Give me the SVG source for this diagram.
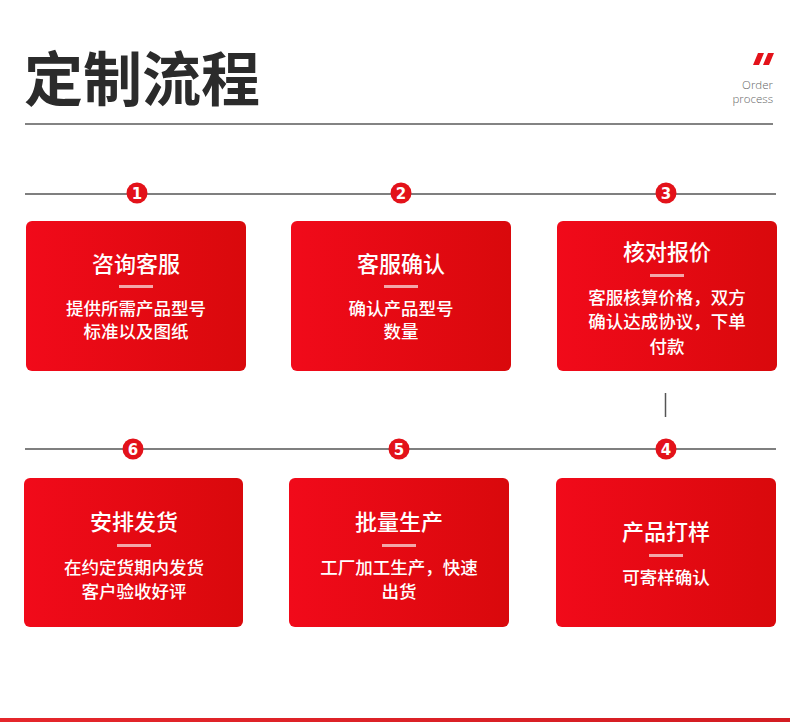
<svg xmlns="http://www.w3.org/2000/svg" width="790" height="722" viewBox="0 0 790 722">
<defs>
<linearGradient id="cardGrad" x1="0" y1="0" x2="1" y2="0">
<stop offset="0" stop-color="#f10a1a"/>
<stop offset="1" stop-color="#d9090c"/>
</linearGradient>
<linearGradient id="barGrad" x1="0" y1="0" x2="1" y2="0">
<stop offset="0" stop-color="#e5262b"/>
<stop offset="1" stop-color="#d31c22"/>
</linearGradient>
<style>
.card{fill:url(#cardGrad);}
.ttl{font-family:"Noto Sans CJK SC","Noto Sans",sans-serif;font-size:22px;font-weight:500;fill:#ffffff;text-anchor:middle;dominant-baseline:central;}
.sub{font-family:"Noto Sans CJK SC","Noto Sans",sans-serif;font-size:17.5px;font-weight:500;fill:#ffffff;text-anchor:middle;dominant-baseline:central;}
.bar{fill:#f3a7a9;}
.rule{stroke:#555555;stroke-width:1.5;}
.dot{fill:#e3121a;}
.num{font-family:"DejaVu Sans","Liberation Sans",sans-serif;font-size:15px;font-weight:bold;fill:#ffffff;text-anchor:middle;dominant-baseline:central;}
.eng{font-family:"Open Sans","Liberation Sans",sans-serif;font-size:11.5px;font-weight:300;fill:#666666;text-anchor:end;}
</style>
</defs>
<rect x="0" y="0" width="790" height="722" fill="#ffffff"/>

<g id="header">
<text x="24" y="75" font-family="Noto Sans CJK SC, Noto Sans, sans-serif" font-size="59" font-weight="bold" fill="#2b2b2b" dominant-baseline="central">定制流程</text>
<polygon points="758,53 764,53 759,65 753,65" fill="#e3121a"/>
<polygon points="768,53 774,53 769,65 763,65" fill="#e3121a"/>
<text class="eng" x="773" y="89">Order</text>
<text class="eng" x="773" y="103">process</text>
<line x1="25" y1="124" x2="773" y2="124" stroke="#5a5a5a" stroke-width="1.5"/>
</g>

<g id="connectors">
<line class="rule" x1="25" y1="194" x2="776" y2="194"/>
<line class="rule" x1="25" y1="449" x2="776" y2="449"/>
<line class="rule" x1="665.5" y1="393" x2="665.5" y2="417"/>
</g>

<g id="step1">
<circle class="dot" cx="137" cy="193" r="10.5"/>
<text class="num" x="137" y="193.5">1</text>
<rect class="card" x="26" y="221" width="220" height="150" rx="6"/>
<text class="ttl" x="136" y="262">咨询客服</text>
<rect class="bar" x="119" y="285" width="34" height="3"/>
<text class="sub" x="136" y="307">提供所需产品型号</text>
<text class="sub" x="136" y="330">标准以及图纸</text>
</g>

<g id="step2">
<circle class="dot" cx="401" cy="193" r="10.5"/>
<text class="num" x="401" y="193.5">2</text>
<rect class="card" x="291" y="221" width="220" height="150" rx="6"/>
<text class="ttl" x="401" y="262">客服确认</text>
<rect class="bar" x="384" y="285" width="34" height="3"/>
<text class="sub" x="401" y="307">确认产品型号</text>
<text class="sub" x="401" y="330">数量</text>
</g>

<g id="step3">
<circle class="dot" cx="666" cy="193" r="10.5"/>
<text class="num" x="666" y="193.5">3</text>
<rect class="card" x="557" y="221" width="220" height="150" rx="6"/>
<text class="ttl" x="667" y="250">核对报价</text>
<rect class="bar" x="650" y="274" width="34" height="3"/>
<text class="sub" x="667" y="296">客服核算价格，双方</text>
<text class="sub" x="667" y="320">确认达成协议，下单</text>
<text class="sub" x="667" y="345">付款</text>
</g>

<g id="step4">
<circle class="dot" cx="666" cy="449" r="10.5"/>
<text class="num" x="666" y="449.5">4</text>
<rect class="card" x="556" y="478" width="220" height="149" rx="6"/>
<text class="ttl" x="666" y="530">产品打样</text>
<rect class="bar" x="649" y="554" width="34" height="3"/>
<text class="sub" x="666" y="576">可寄样确认</text>
</g>

<g id="step5">
<circle class="dot" cx="399" cy="449" r="10.5"/>
<text class="num" x="399" y="449.5">5</text>
<rect class="card" x="289" y="478" width="220" height="149" rx="6"/>
<text class="ttl" x="399" y="520">批量生产</text>
<rect class="bar" x="382" y="544" width="34" height="3"/>
<text class="sub" x="399" y="566">工厂加工生产，快速</text>
<text class="sub" x="399" y="590">出货</text>
</g>

<g id="step6">
<circle class="dot" cx="133" cy="449" r="10.5"/>
<text class="num" x="133" y="449.5">6</text>
<rect class="card" x="24" y="478" width="219" height="149" rx="6"/>
<text class="ttl" x="134" y="520">安排发货</text>
<rect class="bar" x="117" y="544" width="34" height="3"/>
<text class="sub" x="134" y="566">在约定货期内发货</text>
<text class="sub" x="134" y="590">客户验收好评</text>
</g>

<rect x="0" y="718" width="790" height="4" fill="url(#barGrad)"/>
</svg>
